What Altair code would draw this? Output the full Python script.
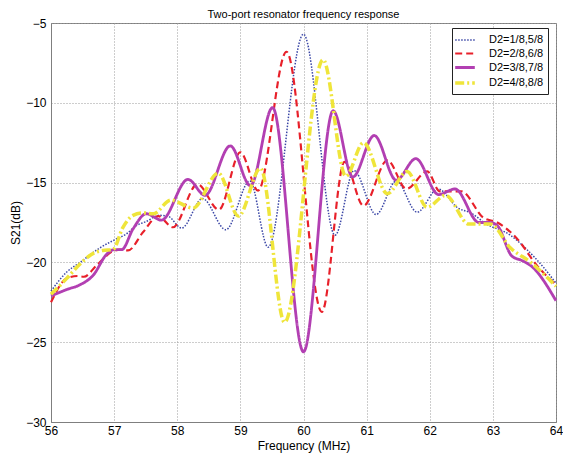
import altair as alt
import pandas as pd

labels = ["D2=1/8,5/8", "D2=2/8,6/8", "D2=3/8,7/8", "D2=4/8,8/8"]
colors = ["#3a46a6", "#e8202a", "#b23fb2", "#efe53a"]
dashes = [[1.5, 1.5], [7, 4], [1, 0], [9, 3, 2, 3]]
widths = [1.5, 3.5, 3.5, 3.5]

x_ticks = [56, 57, 58, 59, 60, 61, 62, 63, 64]
y_ticks = [-30, -25, -20, -15, -10, -5]

# D2=1/8,5/8 (blue dotted)
f1 = [56.0, 56.25, 56.46, 56.77, 57.0, 57.2, 57.35, 57.5, 57.72, 57.85, 58.07, 58.4, 58.77,
      59.15, 59.44, 60.0, 60.5, 60.8, 61.15, 61.47, 61.8, 62.13, 62.45, 62.65, 62.9, 63.28,
      63.54, 63.8, 64.0]
s1 = [-21.8, -20.6, -20.0, -19.1, -18.6, -18.2, -17.7, -17.45, -17.05, -17.1, -17.85, -16.0, -17.95,
      -14.9, -19.05, -5.7, -18.3, -14.25, -17.0, -14.9, -16.85, -15.4, -16.6, -16.9, -17.6, -18.3,
      -19.2, -20.3, -21.3]

# D2=2/8,6/8 (red dashed)
f2 = [56.0, 56.25, 56.42, 56.52, 56.72, 56.98, 57.1, 57.22, 57.46, 57.7, 57.93, 58.32, 58.66,
      59.0, 59.28, 59.73, 60.29, 60.65, 60.95, 61.33, 61.63, 61.96, 62.16, 62.5, 62.85, 63.07,
      63.38, 63.7, 64.0]
s2 = [-22.5, -21.0, -20.85, -20.9, -20.2, -19.3, -19.2, -19.25, -18.1, -17.1, -17.8, -15.1, -16.7,
      -13.1, -15.5, -6.8, -23.1, -13.7, -16.45, -13.6, -15.4, -14.3, -15.55, -15.55, -17.2, -17.5,
      -18.5, -20.2, -21.4]

# D2=3/8,7/8 (purple solid)
f3 = [56.0, 56.25, 56.46, 56.67, 56.88, 57.0, 57.12, 57.3, 57.51, 57.75, 58.17, 58.44, 58.84,
      59.16, 59.51, 60.0, 60.47, 60.78, 61.12, 61.47, 61.78, 62.14, 62.4, 62.78, 62.95, 63.07,
      63.3, 63.47, 63.6, 64.0]
s3 = [-22.1, -21.7, -21.4, -20.8, -19.5, -19.2, -19.2, -17.9, -16.95, -17.35, -14.8, -15.8, -12.7,
      -15.2, -10.3, -25.6, -10.5, -14.65, -12.05, -14.85, -13.5, -15.75, -15.4, -17.5, -17.5, -17.7,
      -19.6, -19.9, -20.2, -22.4]

# D2=4/8,8/8 (yellow dash-dot)
f4 = [56.0, 56.25, 56.46, 56.64, 56.82, 56.98, 57.14, 57.3, 57.45, 57.62, 57.9, 58.25, 58.65,
      58.97, 59.32, 59.7, 60.31, 60.67, 60.95, 61.33, 61.64, 61.96, 62.25, 62.62, 62.96, 63.28,
      63.6, 64.0]
s4 = [-22.0, -21.0, -20.1, -19.5, -19.25, -19.2, -17.8, -17.05, -16.9, -16.95, -16.1, -16.6, -14.4,
      -17.1, -14.1, -23.75, -7.3, -14.6, -12.5, -15.7, -14.3, -16.55, -15.8, -17.6, -17.6, -19.1,
      -20.0, -21.5]

rows = []
for lab, fs, ss in zip(labels, [f1, f2, f3, f4], [s1, s2, s3, s4]):
    for i, (f, s) in enumerate(zip(fs, ss)):
        rows.append({"series": lab, "freq": f, "s21": s, "i": i})
df = pd.DataFrame(rows)

FONT = "Liberation Sans"

legend = alt.Legend(
    orient="none", legendX=401, legendY=5,
    fillColor="white", strokeColor="#222222", padding=4,
    symbolType="M-1.4,0H1.4", symbolSize=196, labelFontSize=11, labelFont=FONT,
    labelColor="black", rowPadding=0, labelOffset=15,
)

chart = alt.Chart(df).mark_line(interpolate="monotone").encode(
    x=alt.X("freq:Q", scale=alt.Scale(domain=[56, 64], nice=False, zero=False),
            axis=alt.Axis(values=x_ticks, title="Frequency (MHz)", format="d",
                          labelPadding=3, titlePadding=4, labelFlush=False)),
    y=alt.Y("s21:Q", scale=alt.Scale(domain=[-30, -5], nice=False, zero=False),
            axis=alt.Axis(values=y_ticks, title="S21(dB)", format="d",
                          labelPadding=5, titlePadding=3, labelFlush=False)),
    color=alt.Color("series:N", scale=alt.Scale(domain=labels, range=colors),
                    title=None, legend=legend),
    strokeDash=alt.StrokeDash("series:N", scale=alt.Scale(domain=labels, range=dashes),
                              title=None, legend=legend),
    strokeWidth=alt.StrokeWidth("series:N", scale=alt.Scale(domain=labels, range=widths),
                                title=None, legend=legend),
    order="i:Q",
).properties(
    width=505, height=399,
    title=alt.Title("Two-port resonator frequency response", fontSize=11,
                    fontWeight="normal", font=FONT, color="black", offset=-3),
    padding={"left": 43, "top": 15, "right": 7, "bottom": 34},
    autosize=alt.AutoSizeParams(type="none"),
).configure_view(
    stroke="#7f7f7f", strokeWidth=1
).configure_axis(
    grid=True, gridDash=[1, 2], gridColor="#9a9a9a", gridWidth=1,
    domainColor="#7f7f7f", ticks=False,
    labelFont=FONT, titleFont=FONT, labelFontSize=12, titleFontSize=12,
    labelColor="black", titleColor="black", titleFontWeight="normal",
)

chart.save("out.html", embed_options={"renderer": "svg", "actions": False})
